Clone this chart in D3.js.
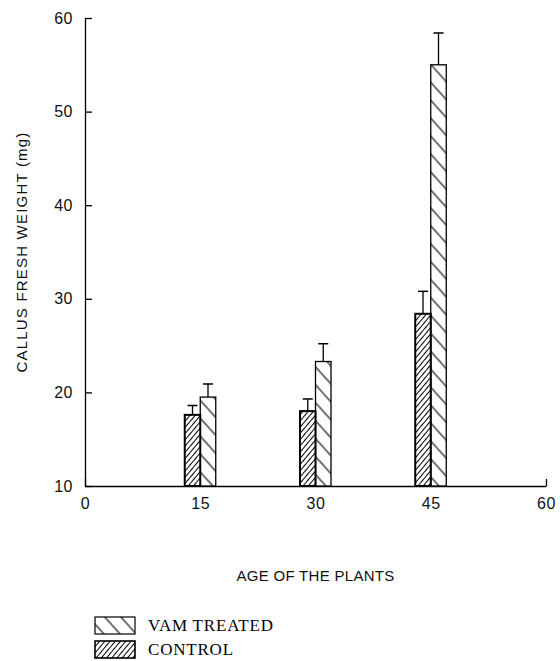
<!DOCTYPE html>
<html lang="en">
<head>
<meta charset="utf-8">
<title>Callus fresh weight</title>
<script src="https://d3js.org/d3.v7.min.js"></script>
<style>
  body { margin: 0; background: #fff; }
  .axis path, .axis line { fill: none; stroke: #000; stroke-width: 1.3; }
  .axis text { font-family: "Liberation Sans", Arial, sans-serif; font-size: 16px; fill: #111; letter-spacing: 0.5px; }
  .title { font-family: "Liberation Sans", Arial, sans-serif; font-size: 15px; fill: #111; letter-spacing: 0.3px; }
  .legend text { font-family: "Liberation Serif", "Times New Roman", serif; font-size: 17px; fill: #000; letter-spacing: 0.8px; }
</style>
</head>
<body>
<div id="chart"></div>
<script>
// data
var ages = [15, 30, 45]
var control = [17.6, 18.0, 28.4]
var controlErr = [1.0, 1.3, 2.4]
var treated = [19.5, 23.3, 55.0]
var treatedErr = [1.4, 1.9, 3.4]
var xTicks = [0, 15, 30, 45, 60]
var yTicks = [10, 20, 30, 40, 50, 60]
var legendLabels = ["VAM TREATED", "CONTROL"]

var w = 560, h = 661
var svg = d3.select("#chart").append("svg")
  .attr("width", w).attr("height", h)

var xScale = d3.scaleLinear().domain([0, 60]).range([85, 546])
var yScale = d3.scaleLinear().domain([10, 60]).range([486, 18])
var bw = 15.5

// hatch patterns
var defs = svg.append("defs")
var pc = defs.append("pattern").attr("id", "ctrl")
  .attr("patternUnits", "userSpaceOnUse").attr("width", 4).attr("height", 4)
  .attr("patternTransform", "rotate(40)")
pc.append("rect").attr("width", 4).attr("height", 4).attr("fill", "#fff")
pc.append("line").attr("x1", 0).attr("y1", 0).attr("x2", 0).attr("y2", 4)
  .attr("stroke", "#000").attr("stroke-width", 2)

var pt = defs.append("pattern").attr("id", "trt")
  .attr("patternUnits", "userSpaceOnUse").attr("width", 12).attr("height", 12)
  .attr("patternTransform", "rotate(-42)")
pt.append("rect").attr("width", 12).attr("height", 12).attr("fill", "#fff")
pt.append("line").attr("x1", 1).attr("y1", 0).attr("x2", 1).attr("y2", 12)
  .attr("stroke", "#000").attr("stroke-width", 1.1)

// axes (ticks pointing inward)
var xAxis = d3.axisBottom(xScale).tickValues(xTicks).tickSizeInner(-7).tickSizeOuter(0).tickPadding(12)
var yAxis = d3.axisLeft(yScale).tickValues(yTicks).tickSizeInner(-7).tickSizeOuter(0).tickPadding(12)

svg.append("g").attr("class", "axis")
  .attr("transform", "translate(0," + yScale(10) + ")")
  .call(xAxis)
svg.append("g").attr("class", "axis")
  .attr("transform", "translate(" + xScale(0) + ",0)")
  .call(yAxis)

// error bars
function errBars(vals, errs, off) {
  var g = svg.append("g")
  ages.forEach(function(a, i) {
    var cx = xScale(a) + off
    g.append("line").attr("x1", cx).attr("x2", cx)
      .attr("y1", yScale(vals[i])).attr("y2", yScale(vals[i] + errs[i]))
      .attr("stroke", "#000").attr("stroke-width", 1.3)
    g.append("line").attr("x1", cx - 5).attr("x2", cx + 5)
      .attr("y1", yScale(vals[i] + errs[i])).attr("y2", yScale(vals[i] + errs[i]))
      .attr("stroke", "#000").attr("stroke-width", 1.5)
  })
}
errBars(control, controlErr, -bw / 2)
errBars(treated, treatedErr, bw / 2)

// bars
svg.selectAll(".trt").data(treated).enter().append("rect")
  .attr("class", "trt")
  .attr("x", function(d, i) { return xScale(ages[i]) })
  .attr("y", function(d) { return yScale(d) })
  .attr("width", bw)
  .attr("height", function(d) { return yScale(10) - yScale(d) })
  .attr("fill", "url(#trt)").attr("stroke", "#000").attr("stroke-width", 1.3)

svg.selectAll(".ctrl").data(control).enter().append("rect")
  .attr("class", "ctrl")
  .attr("x", function(d, i) { return xScale(ages[i]) - bw })
  .attr("y", function(d) { return yScale(d) })
  .attr("width", bw)
  .attr("height", function(d) { return yScale(10) - yScale(d) })
  .attr("fill", "url(#ctrl)").attr("stroke", "#000").attr("stroke-width", 2)

// titles
svg.append("text").attr("class", "title")
  .attr("x", (xScale(0) + xScale(60)) / 2).attr("y", 581)
  .attr("text-anchor", "middle").text("AGE OF THE PLANTS")
svg.append("text").attr("class", "title")
  .attr("transform", "translate(27," + yScale(35) + ") rotate(-90)")
  .attr("text-anchor", "middle").style("letter-spacing", "1.2px")
  .text("CALLUS FRESH WEIGHT (mg)")

// legend
var lg = svg.append("g").attr("class", "legend")
var fills = ["url(#trt)", "url(#ctrl)"]
var sw = [1.2, 1.6]
legendLabels.forEach(function(t, i) {
  var y0 = 617 + i * 24
  lg.append("rect").attr("x", 95).attr("y", y0).attr("width", 40).attr("height", 17)
    .attr("fill", fills[i]).attr("stroke", "#000").attr("stroke-width", sw[i])
  lg.append("text").attr("x", 148).attr("y", y0 + 14).text(t)
})
</script>
</body>
</html>
